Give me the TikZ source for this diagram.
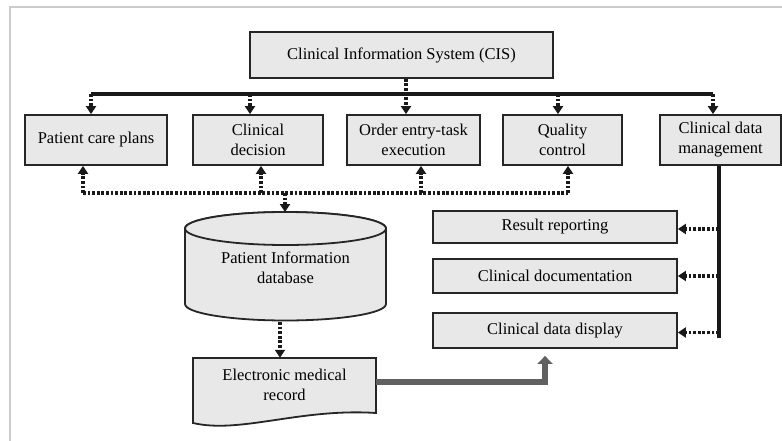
\documentclass[tikz,border=0pt]{standalone}
\usepackage{fontspec}
\setmainfont{Liberation Serif}
\usetikzlibrary{arrows.meta,calc}
\begin{document}
\begin{tikzpicture}[x=1pt,y=-1pt,
  box/.style={draw=black!85,line width=1.8pt,fill=black!9,align=center,inner sep=0pt,font=\fontsize{16.5}{20}\selectfont},
  txt/.style={align=center,inner sep=0pt,font=\fontsize{16.5}{20}\selectfont},
  shapeline/.style={draw=black!85,line width=1.8pt,fill=black!9},
  bus/.style={line width=3.4pt,black!90},
  dots/.style={line width=3.4pt,black!90,dash pattern=on 2.8pt off 1.8pt},
  dotarrow/.style={dots,-{Triangle[length=8pt,width=10pt]}},
  fat/.style={line width=6.5pt,black!62,-{Triangle[length=8pt,width=15pt]}}
]
\useasboundingbox (0,0) rectangle (782,441);
\draw[black!20,line width=1.5pt] (10,441) -- (10,7) -- (782,7);

% top
\node[box,minimum width=303pt,minimum height=46pt] (cis) at (401.5,55) {Clinical Information System (CIS)};
\node[box,minimum width=142pt,minimum height=50pt] (pcp) at (96,140) {Patient care plans};
\node[box,minimum width=130pt,minimum height=50pt] (cd) at (258,140) {Clinical\\decision};
\node[box,minimum width=133pt,minimum height=50pt] (oe) at (413.5,140) {Order entry-task\\execution};
\node[box,minimum width=119pt,minimum height=50pt] (qc) at (562.5,140) {Quality\\control};
\node[box,minimum width=121pt,minimum height=50pt] (cdm) at (720.5,140) {Clinical data\\management};

% top bus
\coordinate (b1) at (91,94);
\coordinate (b2) at (250,94);
\coordinate (b4) at (558,94);
\coordinate (b5) at (713,94);
\coordinate (c406) at (406,94);
\draw[bus] (b1) -- (b5);
\draw[dotarrow] (b1) -- (b1 |- pcp.north);
\draw[dotarrow] (b2) -- (b2 |- cd.north);
\draw[dotarrow] (b4) -- (b4 |- qc.north);
\draw[dotarrow] (b5) -- (b5 |- cdm.north);
\draw[dotarrow] (cis.south -| c406) -- (oe.north -| c406);

% database cylinder
\draw[shapeline] (185,228.5) -- (185,304) arc[start angle=180,end angle=360,x radius=100.5pt,y radius=16.5pt] -- (386,228.5) arc[start angle=0,end angle=180,x radius=100.5pt,y radius=16.5pt] -- cycle;
\draw[shapeline] (285.5,228.5) ellipse [x radius=100.5pt,y radius=16.5pt];
\node[txt] (db) at (285.5,268) {Patient Information\\database};
\coordinate (dbtop) at (285,212);
\coordinate (dbbot) at (280,322);

% bottom dotted bus
\coordinate (d1) at (83,193);
\coordinate (d2) at (261,193);
\coordinate (d3) at (421,193);
\coordinate (d4) at (568,193);
\coordinate (dm) at (285,193);
\draw[dots] (d1) -- (d4);
\draw[dotarrow] (d1) -- (d1 |- pcp.south);
\draw[dotarrow] (d2) -- (d2 |- cd.south);
\draw[dotarrow] (d3) -- (d3 |- oe.south);
\draw[dotarrow] (d4) -- (d4 |- qc.south);
\draw[dotarrow] (dm) -- (dbtop);

% EMR document
\draw[shapeline] (193,358) -- (376,358) -- (376,413) .. controls (300,408) and (240,434) .. (193,423) -- cycle;
\node[txt,minimum width=183pt,minimum height=54pt] (emr) at (284.5,385) {Electronic medical\\record};
\draw[dotarrow] (dbbot) -- (dbbot |- emr.north);

% right boxes
\node[box,minimum width=244pt,minimum height=32pt] (rr) at (555,227) {Result reporting};
\node[box,minimum width=244pt,minimum height=34pt] (cdoc) at (555,276) {Clinical documentation};
\node[box,minimum width=244pt,minimum height=35pt] (cdd) at (555,330.5) {Clinical data display};

% trunk
\coordinate (tend) at (719,338);
\draw[bus] (cdm.south -| tend) -- (tend);
\draw[dotarrow] ($(rr.east -| tend)+(0,2)$) -- ($(rr.east)+(0,2)$);
\draw[dotarrow] (cdoc.east -| tend) -- (cdoc.east);
\draw[dotarrow] ($(cdd.east -| tend)+(0,2)$) -- ($(cdd.east)+(0,2)$);

% fat arrow
\coordinate (fa) at (545,0);
\draw[fat,shorten >=7pt] ($(emr.east)+(0,-3)$) -| (fa |- cdd.south);
\end{tikzpicture}
\end{document}
